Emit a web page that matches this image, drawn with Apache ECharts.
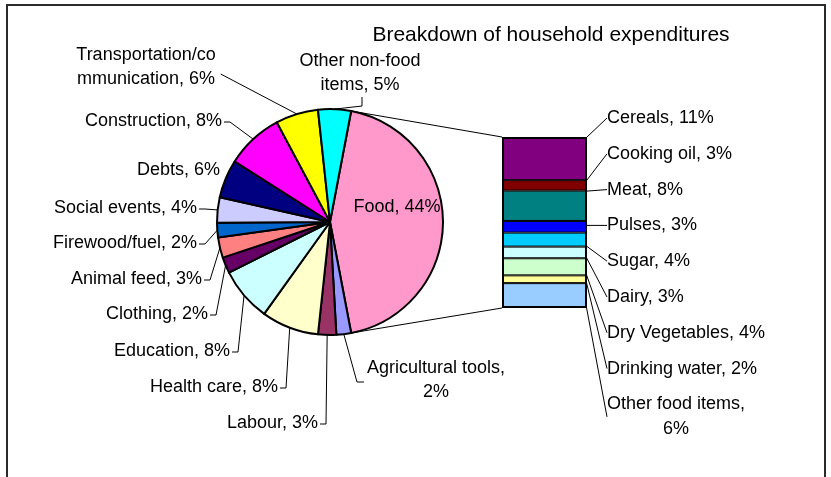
<!DOCTYPE html>
<html><head><meta charset="utf-8">
<script src="https://cdn.jsdelivr.net/npm/echarts@6/dist/echarts.min.js"></script>
<style>html,body{margin:0;padding:0;background:#fff}#c{width:831px;height:477px}</style>
</head><body><div id="c"></div>
<script>
// ---------------- data ----------------
const chartTitle = 'Breakdown of household expenditures';
const pieNames = ['Food', 'Agricultural tools', 'Labour', 'Health care', 'Education', 'Clothing',
  'Animal feed', 'Firewood/fuel', 'Social events', 'Debts', 'Construction',
  'Transportation/communication', 'Other non-food items'];
const pieValues = [44, 2.1, 2.6, 8.2, 7.7, 2.3, 2.9, 2.1, 3.6, 5.5, 8.2, 6.1, 4.7];
const foodNames = ['Cereals', 'Cooking oil', 'Meat', 'Pulses', 'Sugar', 'Dairy',
  'Dry Vegetables', 'Drinking water', 'Other food items'];
const foodValues = [11.1, 2.7, 7.8, 3.0, 3.6, 3.0, 4.4, 2.0, 6.4];

// ---------------- styles / layout ----------------
const FONT = '"Liberation Sans", Arial, sans-serif';
const pieColors = ['#FF99CC', '#9999FF', '#993366', '#FFFFCC', '#CCFFFF', '#660066',
  '#FF8080', '#0066CC', '#CCCCFF', '#000080', '#FF00FF', '#FFFF00', '#00FFFF'];
const foodColors = ['#800080', '#800000', '#008080', '#0000FF', '#00CCFF', '#CCFFFF',
  '#CCFFCC', '#FFFF99', '#99CCFF'];
const PIE_C = [330, 222], PIE_R = 113;
const GRID = { left: 502, top: 137, width: 85, height: 171 };
// label breaks as in the original picture
const labelBreaks = { 'Transportation/communication': 'Transportation/co\nmmunication',
  'Other non-food items': 'Other non-food\nitems' };
const pctOnNewLine = ['Agricultural tools', 'Other food items'];
// label anchors for the pie labels (text positions, not marks)
const pieLabelPos = [
  { x: 397, y: 207, align: 'center', lead: 'none' },
  { x: 436, y: 380, align: 'center', lead: 'left' },
  { x: 318, y: 423, align: 'right', lead: 'right' },
  { x: 278, y: 387, align: 'right', lead: 'right' },
  { x: 230, y: 351, align: 'right', lead: 'right' },
  { x: 208, y: 314, align: 'right', lead: 'right' },
  { x: 202, y: 279, align: 'right', lead: 'right' },
  { x: 197, y: 243, align: 'right', lead: 'right' },
  { x: 197, y: 208, align: 'right', lead: 'right' },
  { x: 220, y: 170, align: 'right', lead: 'none' },
  { x: 222, y: 121, align: 'right', lead: 'right' },
  { x: 146, y: 67, align: 'center', lead: 'corner' },
  { x: 360, y: 73, align: 'center', lead: 'bottom' }
];
const BAR_LABEL_LEFT = 607, BAR_LABEL_TOP = 118, BAR_LABEL_STEP = 35.8;

function labelText(name, v) {
  const n = labelBreaks[name] || name;
  const pct = Math.round(v) + '%';
  return pctOnNewLine.indexOf(name) >= 0 ? n + ',\n' + pct : n + ', ' + pct;
}

const pieTotal = pieValues.reduce((a, b) => a + b, 0);
const foodTotal = foodValues.reduce((a, b) => a + b, 0);
const startAngle = 180 * pieValues[0] / pieTotal;

const labelBase = { show: true, color: '#000', fontFamily: FONT, fontSize: 18, lineHeight: 24 };

const pieSeries = {
  type: 'pie', center: PIE_C, radius: PIE_R, startAngle: startAngle, clockwise: true,
  avoidLabelOverlap: false, silent: true, animation: false,
  itemStyle: { borderColor: '#000', borderWidth: 2 },
  label: Object.assign({}, labelBase, { position: 'outside',
    formatter: p => labelText(p.name, p.value) }),
  labelLine: { show: true, length: 10, length2: 5, lineStyle: { color: '#000', width: 1 } },
  labelLayout: function (p) {
    const c = pieLabelPos[p.dataIndex];
    const w = p.labelRect.width, h = p.labelRect.height;
    const res = { x: c.x, y: c.y, align: c.align, verticalAlign: 'middle' };
    const pts = p.labelLinePoints;
    if (pts && c.lead !== 'none') {
      const e = pts[0].slice();
      let knee, end;
      if (c.lead === 'right') { end = [c.x + 2, c.y + 1]; knee = [c.x + 8, c.y + 1]; }
      else if (c.lead === 'left') { const l = c.x - w / 2; end = [l - 3, c.y + 2]; knee = [l - 10, c.y + 2]; }
      else if (c.lead === 'bottom') { const b = c.y + h / 2; end = [c.x + 2, b]; knee = [c.x + 2, b + 9]; }
      else { end = [c.x + w / 2 + 5, c.y + 7]; knee = [c.x + w / 2 + 5, c.y + 7]; }
      res.labelLinePoints = [e, knee, end];
    }
    return res;
  },
  data: pieNames.map((n, i) => ({
    name: n, value: pieValues[i], itemStyle: { color: pieColors[i] },
    labelLine: { show: pieLabelPos[i].lead !== 'none' }
  }))
};

const barSeries = foodNames.map((n, i) => ({
  type: 'bar', name: n, stack: 'food', barWidth: '100%', silent: true, animation: false,
  data: [foodValues[i]],
  itemStyle: { color: foodColors[i], borderColor: '#000', borderWidth: 1 },
  label: Object.assign({}, labelBase, { position: 'right', lineHeight: 25,
    formatter: p => labelText(p.seriesName, p.value) }),
  labelLine: { show: true, lineStyle: { color: '#000', width: 1 } },
  labelLayout: function (p) {
    const multi = p.labelRect.height > 30;
    const y = BAR_LABEL_TOP + i * BAR_LABEL_STEP + (multi ? 12.5 : 0);
    const x = multi ? BAR_LABEL_LEFT + p.labelRect.width / 2 : BAR_LABEL_LEFT;
    return {
      x: x, y: y, align: multi ? 'center' : 'left', verticalAlign: 'middle',
      labelLinePoints: [[p.rect.x + p.rect.width, p.rect.y + p.rect.height / 2],
        [BAR_LABEL_LEFT - 4, y + (multi ? 1.5 : 0)], [BAR_LABEL_LEFT - 1, y + (multi ? 1.5 : 0)]]
    };
  }
}));

const option = {
  animation: false,
  backgroundColor: '#fff',
  title: { text: chartTitle, left: 551, top: 25, textAlign: 'center', padding: 0,
    textStyle: { fontFamily: FONT, fontSize: 21, fontWeight: 'normal', color: '#000' } },
  grid: GRID,
  xAxis: { type: 'category', data: ['Food'], show: false },
  yAxis: { type: 'value', min: 0, max: foodTotal, inverse: true, show: false },
  graphic: [{ id: 'frame', type: 'rect', silent: true, z: 100,
    shape: { x: 7, y: 5, width: 818, height: 500 },
    style: { fill: 'none', stroke: '#2a2a2a', lineWidth: 2 } }],
  series: [pieSeries].concat(barSeries)
};

const chart = echarts.init(document.getElementById('c'), null, { renderer: 'canvas' });
chart.setOption(option);

// connector lines from the food slice edges to the stacked bar, and the bar's outer outline
const yTop = chart.convertToPixel({ yAxisIndex: 0 }, 0);
const yBot = chart.convertToPixel({ yAxisIndex: 0 }, foodTotal);
const a = Math.PI * startAngle / 180;
const pTop = [PIE_C[0] + PIE_R * Math.cos(a), PIE_C[1] - PIE_R * Math.sin(a)];
const pBot = [PIE_C[0] + PIE_R * Math.cos(a), PIE_C[1] + PIE_R * Math.sin(a)];
chart.setOption({
  graphic: [
    { id: 'c1', type: 'line', silent: true, z: 0, shape: { x1: pTop[0], y1: pTop[1], x2: GRID.left, y2: yTop },
      style: { stroke: '#000', lineWidth: 1 } },
    { id: 'c2', type: 'line', silent: true, z: 0, shape: { x1: pBot[0], y1: pBot[1], x2: GRID.left, y2: yBot },
      style: { stroke: '#000', lineWidth: 1 } },
    { id: 'barFrame', type: 'rect', silent: true, z: 50,
      shape: { x: GRID.left + 1, y: yTop + 1, width: GRID.width - 2, height: yBot - yTop - 2 },
      style: { fill: 'none', stroke: '#000', lineWidth: 2 } }
  ]
});
</script></body></html>
